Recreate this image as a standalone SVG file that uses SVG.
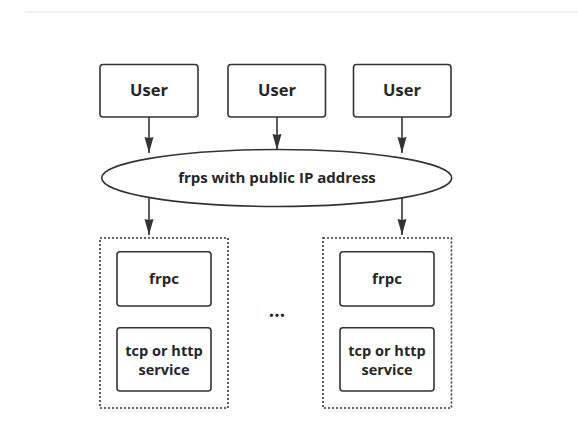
<svg xmlns="http://www.w3.org/2000/svg" width="578" height="425" viewBox="0 0 578 425">
<defs>
<marker id="arr" viewBox="0 0 16 10" refX="16" refY="5" markerWidth="16" markerHeight="10" markerUnits="userSpaceOnUse" orient="auto">
<path d="M0,0.5 L16,5 L0,9.5 L1,5 Z" fill="#333"/>
</marker>
<style>
.box{fill:#fff;stroke:#333;stroke-width:1.6}
.grp{fill:none;stroke:#333;stroke-width:1.6;stroke-dasharray:2 2}
.t{font-family:"Open Sans","Noto Sans","DejaVu Sans",sans-serif;font-weight:bold;fill:#262626;text-anchor:middle}
.c{stroke:#333;stroke-width:1.6;fill:none;marker-end:url(#arr)}
</style>
</defs>
<rect width="578" height="425" fill="#fff"/>
<line x1="25" y1="12" x2="578" y2="12" stroke="#e6e6e6" stroke-width="1"/>
<g id="connectors">
<line class="c" x1="149" y1="117" x2="149" y2="153"/>
<line class="c" x1="277" y1="117" x2="277" y2="150"/>
<line class="c" x1="402" y1="117" x2="402" y2="153"/>
<line class="c" x1="149" y1="198" x2="149" y2="235"/>
<line class="c" x1="402" y1="198" x2="402" y2="235"/>
</g>
<g id="user1"><rect class="box" x="100" y="64.5" width="98" height="52.5" rx="3"/><text class="t" x="149" y="96" font-size="16.5">User</text></g>
<g id="user2"><rect class="box" x="228" y="64.5" width="97.5" height="52.5" rx="3"/><text class="t" x="277" y="96" font-size="16.5">User</text></g>
<g id="user3"><rect class="box" x="353.5" y="64.5" width="97.5" height="52.5" rx="3"/><text class="t" x="402" y="96" font-size="16.5">User</text></g>
<g id="frps"><ellipse class="box" cx="276.7" cy="178" rx="175" ry="28.5"/><text class="t" x="277" y="183" font-size="15">frps with public IP address</text></g>
<g id="group1"><rect class="grp" x="100" y="238" width="128" height="170"/></g>
<g id="group2"><rect class="grp" x="323" y="238" width="128.5" height="170"/></g>
<g id="frpc1"><rect class="box" x="117" y="251.7" width="94" height="54.3" rx="3"/><text class="t" x="164" y="284" font-size="15">frpc</text></g>
<g id="svc1"><rect class="box" x="117" y="327.7" width="94" height="63.3" rx="3"/><text class="t" x="164" y="356" font-size="14.5">tcp or http</text><text class="t" x="164" y="375" font-size="14.5">service</text></g>
<g id="frpc2"><rect class="box" x="340" y="251.7" width="94" height="54.3" rx="3"/><text class="t" x="387" y="284" font-size="15">frpc</text></g>
<g id="svc2"><rect class="box" x="340" y="327.7" width="94" height="63.3" rx="3"/><text class="t" x="387" y="356" font-size="14.5">tcp or http</text><text class="t" x="387" y="375" font-size="14.5">service</text></g>
<g id="ellipsis"><text class="t" x="277" y="317" font-size="19">...</text></g>
</svg>
